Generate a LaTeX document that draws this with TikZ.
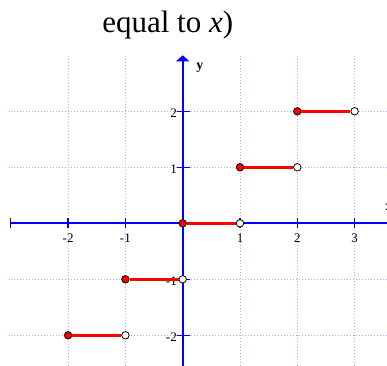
\documentclass[tikz,border=0pt]{standalone}
\usepackage{fontspec}
\setmainfont{Liberation Serif}
\usetikzlibrary{arrows.meta}
\definecolor{gridblue}{RGB}{170,170,255}
\definecolor{axblue}{RGB}{0,0,255}
\definecolor{stepred}{RGB}{255,0,0}
\begin{document}
\begin{tikzpicture}[x=57.3bp,y=56bp,
  gridline/.style={gridblue,dotted,line width=1bp},
  axisline/.style={axblue,line width=1.6bp},
  tickline/.style={axblue,line width=1.2bp},
  stepline/.style={stepred,line width=3bp},
  closeddot/.style={circle,draw=black,fill=stepred,line width=0.8bp,inner sep=0pt,minimum size=7.5bp},
  opendot/.style={circle,draw=black,fill=white,line width=0.8bp,inner sep=0pt,minimum size=7.5bp},
  ticklabel/.style={font=\fontsize{13bp}{13bp}\selectfont,inner sep=0pt}]
\useasboundingbox[fill=white] (-182.7bp,-142.7bp) rectangle (204.3bp,223.3bp);
% grid
\foreach \gx in {-2,-1,1,2,3} \draw[gridline] (\gx,2.98) -- (\gx,-2.6);
\foreach \gy in {-2,-1,1,2} \draw[gridline] (-3.04,\gy) -- (3.6,\gy);
% axes
\coordinate (xstart) at (-3,0);
\coordinate (xend) at (3.6,0);
\coordinate (ystart) at (0,-2.6);
\coordinate (yend) at (0,3);
\draw[axisline] (xstart) -- (xend);
\draw[axisline,-{Triangle[width=13bp,length=6bp]}] (ystart) -- (yend);
% ticks
\foreach \tx in {-3,-2,-1,1,2,3} \draw[tickline] (\tx,-0.09) -- (\tx,0.09);
\foreach \ty in {-2,-1,1,2} \draw[tickline] (-0.1,\ty) -- (0.12,\ty);
% tick labels
\foreach \tx in {-2,-1,1,2,3} \node[ticklabel] (lx\tx) at (\tx,-0.27) {\tx};
\foreach \ty in {-2,-1,1,2} \node[ticklabel,anchor=east] (ly\ty) at (-0.1,\ty-0.04) {\ty};
% axis labels
\node[font=\fontsize{14bp}{14bp}\selectfont\bfseries,inner sep=0pt] (ylab) at (0.3,2.78) {y};
\node[font=\fontsize{14bp}{14bp}\selectfont\bfseries,inner sep=0pt,anchor=west] (xlab) at (3.535,0.29) {x};
% title
\node[font=\fontsize{31bp}{31bp}\selectfont,anchor=base] (title) at (-15bp,191bp) {equal to \textit{x})};
% steps
\foreach \k in {-2,-1,0,1,2} {
  \pgfmathtruncatemacro{\kk}{\k+1}
  \node[closeddot] (a\k) at (\k,\k) {};
  \node[opendot] (b\k) at (\kk,\k) {};
  \draw[stepline] (a\k) -- (b\k);
}
\end{tikzpicture}
\end{document}
